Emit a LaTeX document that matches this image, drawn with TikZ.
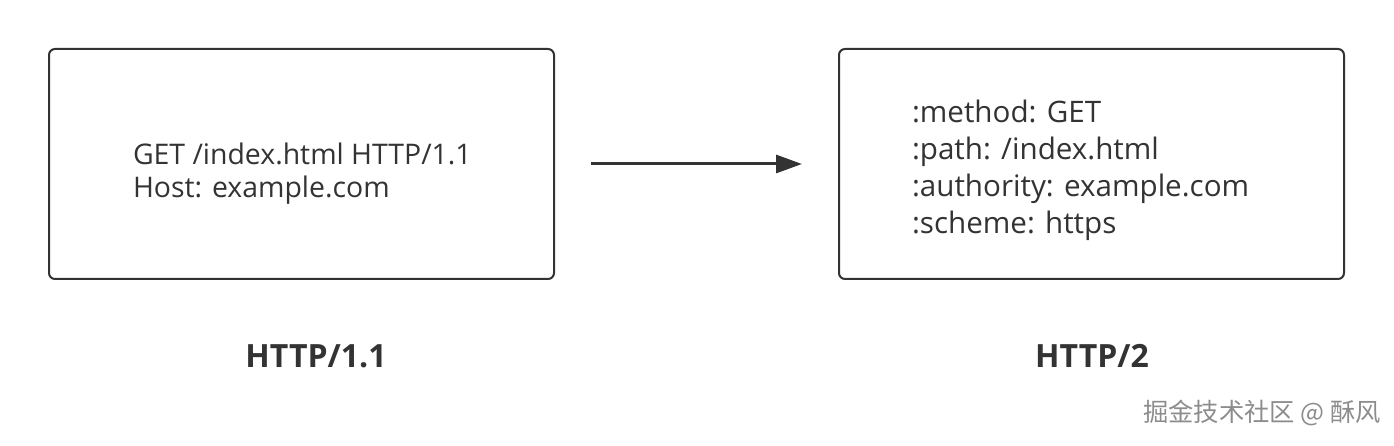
\documentclass[tikz,border=0pt]{standalone}
\usepackage{fontspec}
\setmainfont{Open Sans}
\newfontfamily\cjk{Noto Sans CJK SC}
\usetikzlibrary{arrows.meta}
\definecolor{ink}{HTML}{333333}
\begin{document}
\begin{tikzpicture}[x=1pt, y=-1pt, line width=2pt, msg box/.style={draw=ink,rounded corners=6pt,minimum width=505pt,minimum height=230pt,inner sep=0pt}, msg text/.style={anchor=base west,align=left,inner sep=0pt,text=ink,font=\fontsize{28.4}{33}\selectfont}, proto label/.style={text=ink,font=\fontsize{32}{36}\selectfont\bfseries}]%
\useasboundingbox (0,0) rectangle (1394,446);
\begin{scope}
\node[msg box] (b1) at (301.5,164) {};
\node[msg box] (b2) at (1091.5,164) {};
\node[msg text] (t1) at (132,198) {GET /index.html HTTP/1.1\\Host: example.com};
\node[msg text, font=\fontsize{29.6}{37}\selectfont] (t2) at (911,234) {:method: GET\\:path: /index.html\\:authority: example.com\\:scheme: https};
\node[proto label] (l1) at (316,356) {HTTP/1.1};
\node[proto label] (l2) at (1092,356) {HTTP/2};
%\node[proto label] (l) at (,) {};
\end{scope}
\begin{scope}[-{Triangle[length=26pt,width=18pt]}, draw=ink, line width=3pt]
\draw (b1) edge[shorten <=36pt, shorten >=36pt] (b2);
\end{scope}
\node[text=black!45, font=\cjk\fontsize{25.3}{30}\selectfont] (wm) at (1262,413) {掘金技术社区 @ 酥风};
\end{tikzpicture}
\end{document}
